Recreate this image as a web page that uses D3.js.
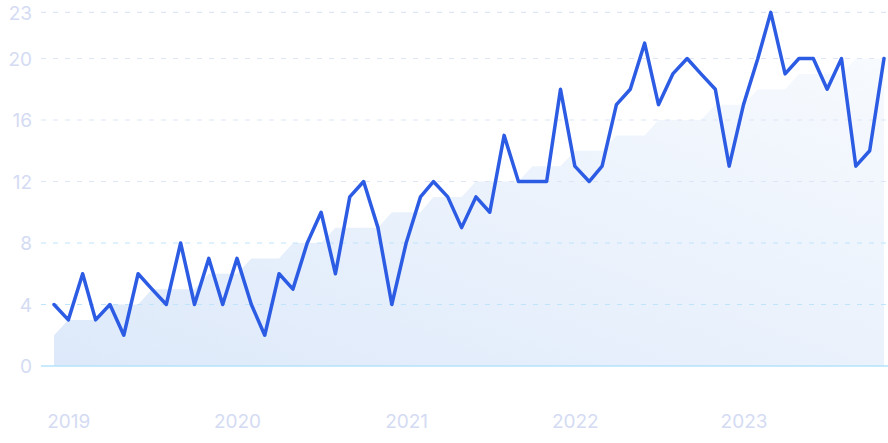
<!DOCTYPE html>
<html>
<head>
<meta charset="utf-8">
<script src="https://cdn.jsdelivr.net/npm/d3@7"></script>
<style>
  html, body { margin: 0; padding: 0; background: #ffffff; }
  svg { display: block; }
  text { font-family: Inter, "Noto Sans", sans-serif; }
</style>
</head>
<body>
<svg id="chart" width="888" height="443"></svg>
<script>
// ---- data ----
const startMonth = "2018-12";
const values = [4,3,6,3,4,2,6,5,4,8, 4,7,4,7,4,2,6,5,8,10, 6,11,12,9,4,8,11,12,11,9,
                11,10,15,12,12,12,18,13,12,13, 17,18,21,17,19,20,19,18,13,17, 20,23,19,20,20,18,20,13,14,20];
const trend  = [2,3,3,3,4,4,4,5,5,5, 5,6,6,6,7,7,7,8,8,8, 9,9,9,9,10,10,10,11,11,11,
                12,12,12,12,13,13,13,14,14,14, 15,15,15,16,16,16,16,17,17,17, 18,18,18,19,19,19,19,20,20,20];
const yTicks = [0,4,8,12,16,20,23];
const xTickYears = ["2019","2020","2021","2022","2023"];

// ---- build dates ----
const parseMonth = d3.timeParse("%Y-%m");
const start = parseMonth(startMonth);
const dates = values.map((_, i) => d3.timeMonth.offset(start, i));
const rows = values.map((v, i) => ({date: dates[i], value: v, trend: trend[i]}));

const svg = d3.select("#chart");

const x = d3.scaleTime()
  .domain([dates[0], dates[dates.length - 1]])
  .range([54, 884]);
const y = d3.scaleLinear().domain([0, 23]).range([366, 12.4]);

// gradient for area
const defs = svg.append("defs");
const grad = defs.append("linearGradient")
  .attr("id", "areaGrad")
  .attr("x1", "0%").attr("y1", "100%").attr("x2", "100%").attr("y2", "0%");
grad.append("stop").attr("offset", "0%").attr("stop-color", "#dde9fa");
grad.append("stop").attr("offset", "100%").attr("stop-color", "#f7fafe");

// area
const area = d3.area()
  .x(d => x(d.date))
  .y0(y(0))
  .y1(d => y(d.trend));
svg.append("path")
  .datum(rows)
  .attr("d", area)
  .attr("fill", "url(#areaGrad)");

// grid lines
const grid = svg.append("g");
grid.selectAll("line")
  .data(yTicks)
  .join("line")
  .attr("x1", 41)
  .attr("x2", 888)
  .attr("y1", d => y(d))
  .attr("y2", d => y(d))
  .attr("stroke", d => d === 0 ? "#b5e3fb" : (d <= 8 ? "#bfe4fb" : "#dde5f7"))
  .attr("stroke-width", d => d === 0 ? 1.5 : 1.2)
  .attr("stroke-dasharray", d => d === 0 ? null : "5,7");

// y axis labels
const yAxis = d3.axisLeft(y).tickValues(yTicks).tickSize(0).tickPadding(0);
const yg = svg.append("g").attr("transform", "translate(32,0)").call(yAxis);
yg.select(".domain").remove();
yg.selectAll("text")
  .attr("fill", "#d4dbf3")
  .style("font-size", "19px")
  .attr("dy", "0.35em");

// x axis labels
const yearDates = xTickYears.map(s => d3.timeParse("%Y")(s));
const xAxis = d3.axisBottom(x).tickValues(yearDates).tickFormat(d3.timeFormat("%Y")).tickSize(0).tickPadding(0);
const xg = svg.append("g").attr("transform", "translate(0,421)").call(xAxis);
xg.select(".domain").remove();
xg.selectAll("text")
  .attr("fill", "#d4dbf3")
  .style("font-size", "19px")
  .attr("dy", "0.35em")
  .attr("y", 0);

// line
const line = d3.line()
  .x(d => x(d.date))
  .y(d => y(d.value));
svg.append("path")
  .datum(rows)
  .attr("d", line)
  .attr("fill", "none")
  .attr("stroke", "#2d5ce4")
  .attr("stroke-width", 3.5)
  .attr("stroke-linejoin", "round")
  .attr("stroke-linecap", "round");
</script>
</body>
</html>
